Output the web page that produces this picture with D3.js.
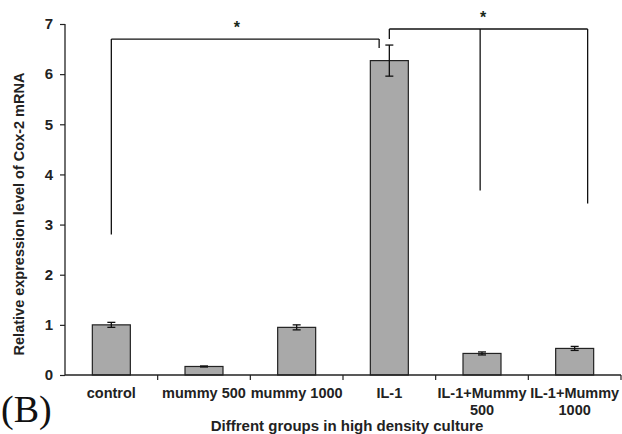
<!DOCTYPE html>
<html>
<head>
<meta charset="utf-8">
<script src="https://cdn.jsdelivr.net/npm/d3@7"></script>
<style>
  body { margin: 0; background: #fff; }
</style>
</head>
<body>
<script>
const groups = ["control", "mummy 500", "mummy 1000", "IL-1", "IL-1+Mummy 500", "IL-1+Mummy 1000"];
const groupLines = [["control"], ["mummy 500"], ["mummy 1000"], ["IL-1"], ["IL-1+Mummy", "500"], ["IL-1+Mummy", "1000"]];
const expression = [1.0, 0.17, 0.95, 6.27, 0.43, 0.53];
const errors = [0.05, 0.01, 0.05, 0.31, 0.03, 0.04];
const yTicks = [0, 1, 2, 3, 4, 5, 6, 7];

// significance brackets: endpoints given as group + shift (fraction of band)
const brackets = [
  { level: 6.7, ends: [{ g: "control", shift: 0, drop: 2.8 }, { g: "IL-1", shift: -0.11, drop: 6.52 }] },
  { level: 6.9, ends: [{ g: "IL-1", shift: 0, drop: 6.7 }, { g: "IL-1+Mummy 500", shift: -0.02, drop: 3.68 }, { g: "IL-1+Mummy 1000", shift: 0.14, drop: 3.42 }] }
];

const w = 622, h = 434;
const padL = 65, padR = 621, padT = 24, padB = 375;
const sans = "Liberation Sans, Arial, sans-serif";

const svg = d3.select("body").append("svg")
  .attr("width", w)
  .attr("height", h)
  .attr("font-family", sans);

const x = d3.scaleBand().domain(groups).range([padL, padR]);
const y = d3.scaleLinear().domain([0, 7]).range([padB, padT]);
const barW = x.bandwidth() * 0.41;
const cx = (g, s) => x(g) + x.bandwidth() * (0.5 + (s || 0));

// bars
svg.selectAll("rect.bar")
  .data(groups)
  .enter()
  .append("rect")
  .attr("class", "bar")
  .attr("x", g => cx(g) - barW / 2)
  .attr("y", (g, i) => y(expression[i]))
  .attr("width", barW)
  .attr("height", (g, i) => y(0) - y(expression[i]))
  .attr("fill", "#a9a9a9")
  .attr("stroke", "#222")
  .attr("stroke-width", 1.2);

// error bars
const eb = svg.append("g").attr("stroke", "#111").attr("stroke-width", 1.3);
groups.forEach((g, i) => {
  const hi = y(expression[i] + errors[i]), lo = y(expression[i] - errors[i]);
  eb.append("line").attr("x1", cx(g)).attr("x2", cx(g)).attr("y1", hi).attr("y2", lo);
  eb.append("line").attr("x1", cx(g) - 4).attr("x2", cx(g) + 4).attr("y1", hi).attr("y2", hi);
  eb.append("line").attr("x1", cx(g) - 4).attr("x2", cx(g) + 4).attr("y1", lo).attr("y2", lo);
});

// axes
const yAxis = d3.axisLeft(y).tickValues(yTicks).tickSize(5).tickPadding(7).tickFormat(d3.format("d"));
const gy = svg.append("g")
  .attr("transform", "translate(" + padL + ",0)")
  .call(yAxis);
gy.select(".domain").attr("d", "M0," + padT + "V" + padB).attr("stroke", "#222").attr("stroke-width", 1.3);
gy.selectAll(".tick line").attr("stroke", "#222").attr("stroke-width", 1.2);
gy.selectAll(".tick text")
  .attr("font-size", 15)
  .attr("font-weight", "bold")
  .attr("fill", "#222")
  .attr("font-family", sans);

const xAxis = d3.axisBottom(x).tickSize(0).tickFormat("");
const gx = svg.append("g")
  .attr("transform", "translate(0," + padB + ")")
  .call(xAxis);
gx.select(".domain").attr("d", "M" + padL + ",0H" + padR).attr("stroke", "#222").attr("stroke-width", 1.3);

// ticks between groups
const edges = groups.map(g => x(g)).concat([x(groups[groups.length - 1]) + x.bandwidth()]).slice(1);
gx.selectAll("line.edge")
  .data(edges)
  .enter()
  .append("line")
  .attr("class", "edge")
  .attr("x1", d => d).attr("x2", d => d)
  .attr("y1", 0).attr("y2", 5)
  .attr("stroke", "#222").attr("stroke-width", 1.2);

// group labels
const labels = gx.selectAll("text.lab")
  .data(groups)
  .enter()
  .append("text")
  .attr("class", "lab")
  .attr("text-anchor", "middle")
  .attr("font-family", sans)
  .attr("font-size", 14.5)
  .attr("font-weight", "bold")
  .attr("fill", "#222");
labels.each(function (g, i) {
  groupLines[i].forEach((line, j) => {
    d3.select(this).append("tspan")
      .attr("x", cx(g))
      .attr("y", 23 + j * 17)
      .text(line);
  });
});

// brackets
const br = svg.append("g").attr("stroke", "#111").attr("stroke-width", 1.3).attr("fill", "none");
brackets.forEach(b => {
  const xs = b.ends.map(e => cx(e.g, e.shift));
  br.append("line")
    .attr("x1", d3.min(xs)).attr("x2", d3.max(xs))
    .attr("y1", y(b.level)).attr("y2", y(b.level));
  b.ends.forEach((e, k) => {
    br.append("line")
      .attr("x1", xs[k]).attr("x2", xs[k])
      .attr("y1", y(b.level)).attr("y2", y(e.drop));
  });
});

// stars
svg.selectAll("text.star")
  .data(brackets)
  .enter()
  .append("text")
  .attr("class", "star")
  .attr("x", (b, i) => i === 0
    ? (cx(b.ends[0].g) + cx(b.ends[1].g, b.ends[1].shift)) * 0.483
    : cx(b.ends[1].g) + 1)
  .attr("y", b => y(b.level) - 6)
  .attr("text-anchor", "middle")
  .attr("font-size", 16)
  .attr("font-weight", "bold")
  .attr("fill", "#1a2a1a")
  .text("*");

// axis titles
svg.append("text")
  .attr("transform", "translate(24,214) rotate(-90)")
  .attr("text-anchor", "middle")
  .attr("font-size", 14.5)
  .attr("font-weight", "bold")
  .attr("fill", "#222")
  .text("Relative expression level of Cox-2 mRNA");

svg.append("text")
  .attr("x", 347)
  .attr("y", 431)
  .attr("text-anchor", "middle")
  .attr("font-size", 15)
  .attr("font-weight", "bold")
  .attr("fill", "#222")
  .text("Diffrent groups in high density culture");

svg.append("text")
  .attr("x", 1)
  .attr("y", 422)
  .attr("font-family", "Liberation Serif, Times New Roman, serif")
  .attr("font-size", 38)
  .attr("fill", "#111")
  .text("(B)");
</script>
</body>
</html>
